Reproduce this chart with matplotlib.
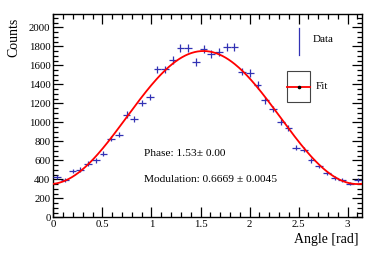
import numpy as np
import matplotlib
matplotlib.use('Agg')
import matplotlib.pyplot as plt
from matplotlib.ticker import MultipleLocator
from matplotlib.patches import Rectangle
from matplotlib.lines import Line2D

plt.rcParams['font.family'] = ['Liberation Serif', 'DejaVu Serif']

# 40 bins between 0 and pi
n_bins = 40
counts = [424, 390, 484, 502, 565, 600, 670, 828, 870, 1081,
          1039, 1204, 1267, 1558, 1558, 1655, 1780, 1780, 1635, 1775,
          1720, 1741, 1795, 1795, 1533, 1520, 1393, 1232, 1140, 1007,
          937, 734, 709, 600, 537, 470, 418, 390, 355, 390]

# fit parameters shown on the plot
norm = 1050.0
phase = 1.53
phase_err = 0.00
modulation = 0.6669
modulation_err = 0.0045

x_ticks = [0, 0.5, 1, 1.5, 2, 2.5, 3]
x_tick_labels = ['0', '0.5', '1', '1.5', '2', '2.5', '3']

edges = np.linspace(0, np.pi, n_bins + 1)
centers = 0.5 * (edges[:-1] + edges[1:])
half_width = 0.5 * (edges[1] - edges[0])
y = np.array(counts, dtype=float)

fig = plt.figure(figsize=(3.81, 2.59), dpi=100)
ax = fig.add_axes([0.140, 0.161, 0.809, 0.785])

ax.errorbar(centers, y, xerr=half_width, yerr=np.sqrt(y), fmt='none',
            ecolor='#3232b4', elinewidth=0.9, capsize=0, zorder=3)

xf = np.linspace(0, np.pi, 300)
yf = norm * (1 + modulation * np.cos(2 * (xf - phase)))
ax.plot(xf, yf, color='red', lw=1.3, zorder=4)

ax.set_xlim(0, np.pi)
ax.set_ylim(0, 2140)
ax.set_xticks(x_ticks)
ax.set_xticklabels(x_tick_labels)
ax.yaxis.set_major_locator(MultipleLocator(200))
ax.xaxis.set_minor_locator(MultipleLocator(0.1))
ax.yaxis.set_minor_locator(MultipleLocator(50))
ax.tick_params(which='both', direction='in', top=True, right=True,
               labelsize=7.8, width=0.9, colors='black')
ax.tick_params(which='major', length=7, pad=2)
ax.tick_params(which='minor', length=3.5)
for s in ax.spines.values():
    s.set_linewidth(1.0)

fig.text(14 / 381, 1 - 18 / 259, 'Counts', rotation=90, ha='center',
         va='top', fontsize=10)
fig.text(359 / 381, 1 - 240 / 259, 'Angle [rad]', ha='right',
         va='center', fontsize=10)

fig.text(144 / 381, 1 - 153 / 259,
         'Phase: %.2f\u00b1 %.2f' % (phase, phase_err),
         ha='left', va='center', fontsize=8.2)
fig.text(144 / 381, 1 - 180 / 259,
         'Modulation: %.4f \u00b1 %.4f' % (modulation, modulation_err),
         ha='left', va='center', fontsize=8.2)

# ROOT style legend drawn by hand
fig.add_artist(Line2D([299 / 381, 299 / 381], [1 - 28 / 259, 1 - 55 / 259],
                      color='#3232b4', lw=0.9))
fig.text(313 / 381, 1 - 40 / 259, 'Data', ha='left', va='center', fontsize=8)
fig.add_artist(Rectangle((287 / 381, 1 - 102 / 259), 23 / 381, 31 / 259,
                         fill=False, edgecolor='#444444', lw=0.8))
fig.add_artist(Line2D([287 / 381, 310 / 381], [1 - 86.5 / 259, 1 - 86.5 / 259],
                      color='red', lw=1.3))
fig.add_artist(Line2D([299 / 381], [1 - 86.5 / 259], marker='o',
                      markersize=1.6, color='black', lw=0))
fig.text(316 / 381, 1 - 86.5 / 259, 'Fit', ha='left', va='center', fontsize=8)

fig.savefig('out.png', dpi=100)
